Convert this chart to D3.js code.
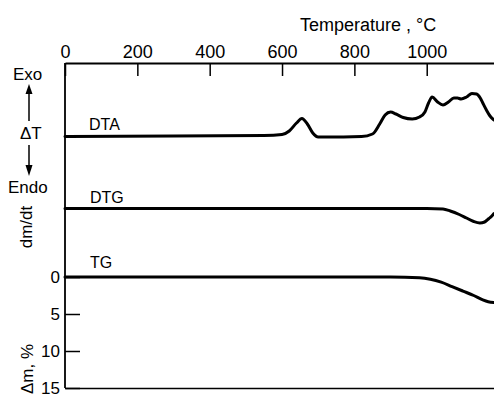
<!DOCTYPE html>
<html>
<head>
<meta charset="utf-8">
<script src="https://cdn.jsdelivr.net/npm/d3@7/dist/d3.min.js"></script>
<style>
  html, body { margin: 0; padding: 0; background: #fff; }
  svg { display: block; font-family: "Liberation Sans", Arial, sans-serif; }
</style>
</head>
<body>
<svg id="chart" width="494" height="397"></svg>
<script>
// ---- data ----
const tempTicks = [0, 200, 400, 600, 800, 1000];
const massTicks = [0, 5, 10, 15];

// DTA: temperature (°C) and ΔT (arbitrary units, exo up)
const dtaTemp = [0, 300, 550, 600, 620, 640, 655, 670, 685, 700, 720, 820, 850, 870, 885, 900, 915, 935, 960, 980, 995, 1005, 1015, 1030, 1045, 1060, 1075, 1085, 1095, 1110, 1125, 1138, 1148, 1155, 1165, 1175, 1186];
const dtaVal  = [-0.5, 0, 0.5, 1.5, 5, 13, 17.5, 12, 3, -1, -1, -0.5, 2, 12, 21, 24, 22, 18.5, 17, 19, 24, 33, 39, 34, 31, 34, 38, 38, 37, 39, 42.5, 42, 38, 33, 26, 20, 16];

// DTG: temperature (°C) and dm/dt (arbitrary units)
const dtgTemp = [0, 1000, 1045, 1065, 1090, 1110, 1130, 1147, 1160, 1172, 1180, 1186];
const dtgVal  = [0, 0, -0.5, -2.5, -6, -9.5, -13, -14.5, -13.5, -10, -7.5, -5];

// TG: temperature (°C) and mass loss Δm (%)
const tgTemp = [0, 900, 980, 1010, 1040, 1070, 1100, 1130, 1155, 1170, 1186];
const tgVal  = [0, 0, 0.1, 0.3, 0.7, 1.3, 1.9, 2.5, 3.1, 3.35, 3.45];

// ---- scales ----
const svg = d3.select("#chart");
const pLeft = 65, pRight = 494, pTop = 63, pBottom = 388;

const x = d3.scaleLinear().domain([0, 1186]).range([pLeft, pRight]);
const yTG = d3.scaleLinear().domain([0, 15]).range([277, pBottom]);
const yDTA = d3.scaleLinear().domain([0, 40]).range([136, 96]);
const yDTG = d3.scaleLinear().domain([0, -15]).range([208.5, 223.5]);

// ---- axes ----
const topAxis = d3.axisTop(x).tickValues(tempTicks).tickFormat(d3.format("d"))
  .tickSizeInner(-13).tickSizeOuter(0).tickPadding(5);
const gTop = svg.append("g").attr("transform", `translate(0,${pTop})`).call(topAxis);
gTop.select(".domain").attr("stroke-width", 1.8);
gTop.selectAll(".tick line").attr("stroke-width", 1.5);
gTop.selectAll(".tick text").attr("font-size", 18).attr("fill", "#000").attr("font-family", "Liberation Sans, Arial, sans-serif");

const leftAxis = d3.axisLeft(yTG).tickValues(massTicks).tickSizeInner(-15).tickSizeOuter(0).tickPadding(5);
const gLeft = svg.append("g").attr("transform", `translate(${pLeft},0)`).call(leftAxis);
gLeft.select(".domain").remove();
gLeft.selectAll(".tick line").attr("stroke-width", 1.5);
gLeft.selectAll(".tick text").attr("font-size", 17).attr("fill", "#000").attr("font-family", "Liberation Sans, Arial, sans-serif");

svg.append("line").attr("x1", pLeft).attr("x2", pLeft).attr("y1", pTop).attr("y2", pBottom)
  .attr("stroke", "#000").attr("stroke-width", 1.8);

const bottomAxis = d3.axisBottom(x).tickValues([]).tickSizeOuter(0);
const gBot = svg.append("g").attr("transform", `translate(0,${pBottom})`).call(bottomAxis);
gBot.select(".domain").attr("stroke-width", 1.5);

// ---- curves ----
function drawCurve(ts, vs, ys) {
  const line = d3.line().x(d => x(d[0])).y(d => ys(d[1])).curve(d3.curveMonotoneX);
  svg.append("path").datum(ts.map((t, i) => [t, vs[i]]))
    .attr("d", line).attr("fill", "none").attr("stroke", "#000")
    .attr("stroke-width", 3).attr("stroke-linejoin", "round").attr("stroke-linecap", "round");
}
drawCurve(dtaTemp, dtaVal, yDTA);
drawCurve(dtgTemp, dtgVal, yDTG);
drawCurve(tgTemp, tgVal, yTG);

// ---- labels ----
function txt(s, xx, yy, size, anchor) {
  return svg.append("text").attr("x", xx).attr("y", yy).attr("font-size", size)
    .attr("text-anchor", anchor || "start").attr("fill", "#000").text(s);
}
txt("Temperature , °C", 300, 31, 18);
txt("DTA", 89, 130, 16);
txt("DTG", 90, 203, 16);
txt("TG", 90, 268, 16);
txt("Exo", 13, 80, 17);
txt("ΔT", 20, 139, 17);
txt("Endo", 8, 193, 17);

svg.append("text").attr("transform", "translate(32,227) rotate(-90)")
  .attr("text-anchor", "middle").attr("font-size", 17).attr("fill", "#000").text("dm/dt");
svg.append("text").attr("transform", "translate(33,369) rotate(-90)")
  .attr("text-anchor", "middle").attr("font-size", 17).attr("fill", "#000").text("Δm, %");

// arrows
const ax = 29;
svg.append("line").attr("x1", ax).attr("x2", ax).attr("y1", 93).attr("y2", 121).attr("stroke", "#000").attr("stroke-width", 1.5);
svg.append("path").attr("d", d3.line()([[ax, 84], [ax - 3.5, 94], [ax + 3.5, 94]]) + "Z").attr("fill", "#000");
svg.append("line").attr("x1", ax).attr("x2", ax).attr("y1", 145).attr("y2", 166).attr("stroke", "#000").attr("stroke-width", 1.5);
svg.append("path").attr("d", d3.line()([[ax, 176], [ax - 3.5, 165], [ax + 3.5, 165]]) + "Z").attr("fill", "#000");
</script>
</body>
</html>
